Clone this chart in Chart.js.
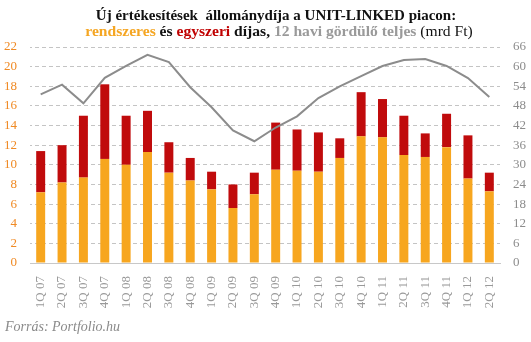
<!DOCTYPE html>
<html>
<head>
<meta charset="utf-8">
<script src="https://cdn.jsdelivr.net/npm/chart.js@4.4.1/dist/chart.umd.min.js"></script>
<style>
  html, body { margin: 0; padding: 0; background: #fff; }
  #wrap { width: 531px; height: 342px; }
</style>
</head>
<body>
<div id="wrap"><canvas id="myChart" width="531" height="342"></canvas></div>
<script>
// negyedevek
const quarters = ["1Q 07","2Q 07","3Q 07","4Q 07","1Q 08","2Q 08","3Q 08","4Q 08","1Q 09","2Q 09","3Q 09",
                  "4Q 09","1Q 10","2Q 10","3Q 10","4Q 10","1Q 11","2Q 11","3Q 11","4Q 11","1Q 12","2Q 12"];
// rendszeres díjas (mrd Ft)
const regular = [7.2, 8.2, 8.7, 10.6, 10.0, 11.3, 9.2, 8.4, 7.5, 5.6, 7.0,
                 9.5, 9.4, 9.3, 10.7, 12.9, 12.8, 11.0, 10.8, 11.8, 8.6, 7.3];
// egyszeri díjas (mrd Ft)
const single = [4.2, 3.8, 6.3, 7.6, 5.0, 4.2, 3.1, 2.3, 1.8, 2.4, 2.2,
                4.8, 4.2, 4.0, 2.0, 4.5, 3.9, 4.0, 2.4, 3.4, 4.4, 1.9];
// 12 havi gördülő teljes (jobb tengely)
const rolling = [51.5, 54.5, 48.8, 56.6, 60.2, 63.6, 61.4, 53.7, 47.6, 40.5, 37.2,
                 41.4, 44.8, 50.4, 54.0, 57.1, 60.2, 62.0, 62.3, 60.2, 56.5, 50.7];

const orange = "#f7a61f";
const red = "#c00b0c";
const grey = "#8c8c8c";

const serif = "'Liberation Serif', 'DejaVu Serif', serif";

const titleLine1 = [["Új értékesítések  állománydíja a UNIT-LINKED piacon:", "#111", "bold"]];
const titleLine2 = [
  ["rendszeres", "#f5a623", "bold"],
  [" és ", "#111", "bold"],
  ["egyszeri", "#c00000", "bold"],
  [" díjas, ", "#111", "bold"],
  ["12 havi gördülő teljes", "#9a9a9a", "bold"],
  [" (mrd Ft)", "#111", "normal"]
];

function drawLine(ctx, parts, cx, y, size) {
  let total = 0;
  parts.forEach(p => {
    ctx.font = p[2] + " " + size + "px " + serif;
    total += ctx.measureText(p[0]).width;
  });
  let x = cx - total / 2;
  parts.forEach(p => {
    ctx.font = p[2] + " " + size + "px " + serif;
    ctx.fillStyle = p[1];
    ctx.fillText(p[0], x, y);
    x += ctx.measureText(p[0]).width;
  });
}

const textPlugin = {
  id: "titleAndSource",
  afterDraw(chart) {
    const { ctx } = chart;
    ctx.save();
    ctx.textBaseline = "alphabetic";
    ctx.textAlign = "left";
    drawLine(ctx, titleLine1, 276, 20, 15);
    drawLine(ctx, titleLine2, 279, 36, 15.6);
    ctx.font = "italic 14px " + serif;
    ctx.fillStyle = "#8a8a8a";
    ctx.fillText("Forrás: Portfolio.hu", 5, 331);
    ctx.restore();
  }
};

const ctx = document.getElementById("myChart").getContext("2d");

// szaggatott rácsvonal mintából (4px vonal, 3px rés)
const dashCanvas = document.createElement("canvas");
dashCanvas.width = 7;
dashCanvas.height = 1;
const dctx = dashCanvas.getContext("2d");
dctx.fillStyle = "#c4c4c4";
dctx.fillRect(0, 0, 4, 1);
const dashPattern = ctx.createPattern(dashCanvas, "repeat");

new Chart(ctx, {
  type: "bar",
  data: {
    labels: quarters,
    datasets: [
      {
        type: "line",
        label: "12 havi gördülő teljes",
        data: rolling,
        yAxisID: "y2",
        borderColor: grey,
        borderWidth: 2,
        pointRadius: 0,
        tension: 0,
        order: 0
      },
      {
        label: "rendszeres",
        data: regular,
        backgroundColor: orange,
        stack: "s",
        yAxisID: "y",
        order: 1
      },
      {
        label: "egyszeri",
        data: single,
        backgroundColor: red,
        stack: "s",
        yAxisID: "y",
        order: 1
      }
    ]
  },
  options: {
    responsive: false,
    animation: false,
    datasets: { bar: { barPercentage: 0.84, categoryPercentage: 0.5 } },
    layout: { padding: { top: 47, bottom: 0, left: 0, right: 0 } },
    plugins: {
      legend: { display: false },
      tooltip: { enabled: false }
    },
    scales: {
      x: {
        stacked: true,
        grid: { display: false },
        border: { color: "#c8c8c8", width: 1 },
        afterFit(scale) { scale.height = 79; },
        ticks: {
          color: "#999",
          font: { family: serif, size: 13 },
          minRotation: 90,
          maxRotation: 90,
          padding: 5
        }
      },
      y: {
        stacked: true,
        position: "left",
        min: 0,
        max: 22,
        afterFit(scale) { scale.width = 30; },
        ticks: {
          stepSize: 2,
          color: "#f08a24",
          font: { family: serif, size: 13 },
          padding: 13
        },
        grid: {
          color: c => c.tick && c.tick.value === 0 ? "rgba(0,0,0,0)" : dashPattern,
          lineWidth: 1,
          drawTicks: false
        },
        border: { display: false }
      },
      y2: {
        position: "right",
        min: 0,
        max: 66,
        afterFit(scale) { scale.width = 31; },
        ticks: {
          stepSize: 6,
          color: "#8c8c8c",
          font: { family: serif, size: 13 },
          padding: 5
        },
        grid: { display: false },
        border: { display: false }
      }
    }
  },
  plugins: [textPlugin]
});
</script>
</body>
</html>
